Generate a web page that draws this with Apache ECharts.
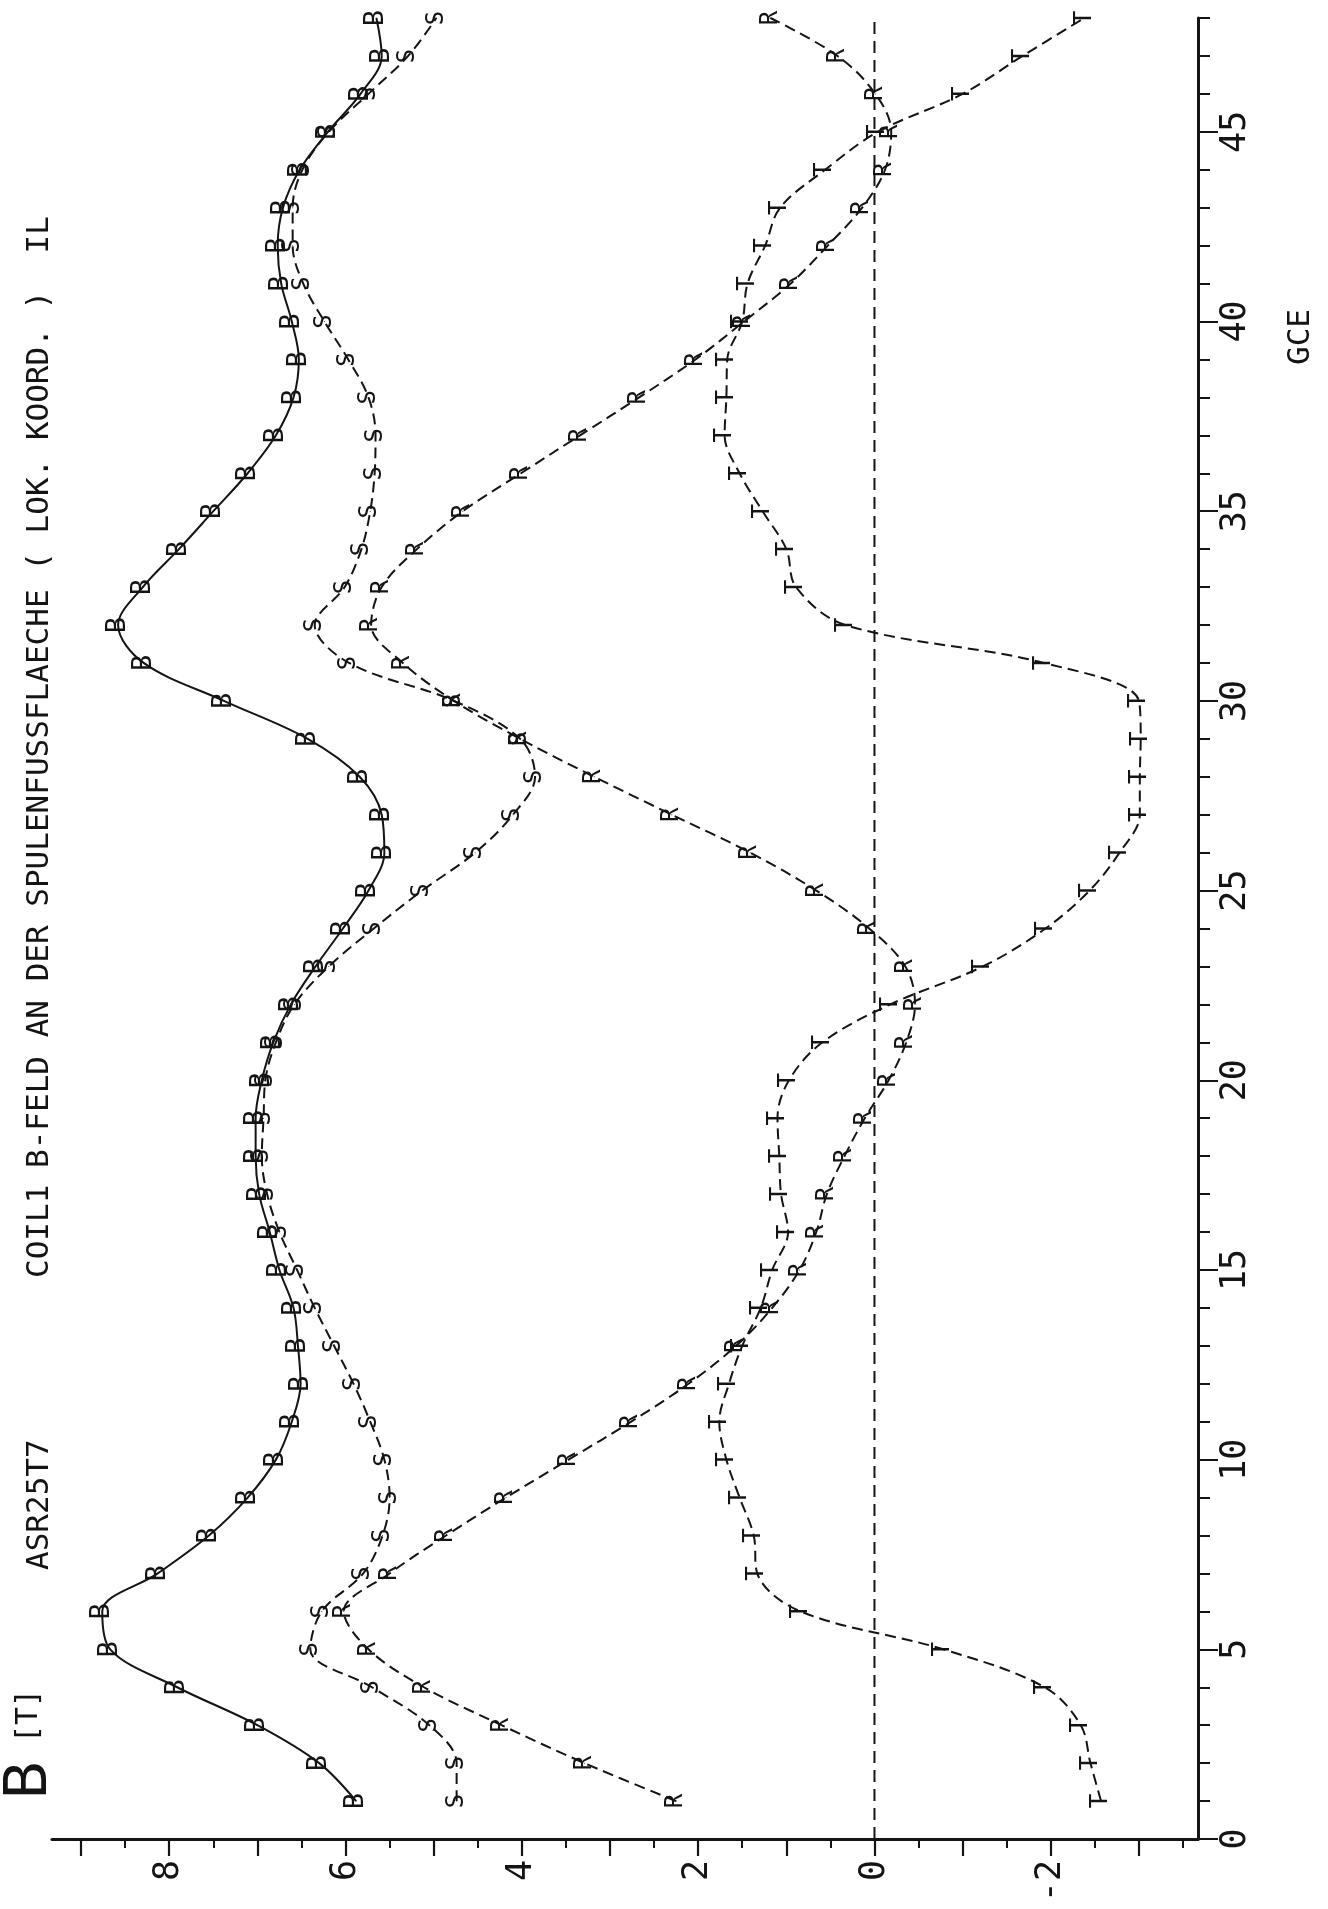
<!DOCTYPE html>
<html>
<head>
<meta charset="utf-8">
<script src="https://cdn.jsdelivr.net/npm/echarts@6/dist/echarts.min.js"></script>
<style>
html,body{margin:0;padding:0;background:#fff;}
#chart{width:1328px;height:1909px;}
</style>
</head>
<body>
<div id="chart"></div>
<script>
// GCE positions (vertical axis in the rotated plot)
const gce = [1,2,3,4,5,6,7,8,9,10,11,12,13,14,15,16,17,18,19,20,21,22,23,24,25,26,27,28,29,30,31,32,33,34,35,36,37,38,39,40,41,42,43,44,45,46,47,48];

// B [T] values per curve (marker letter in brackets)
const curveB = [5.88,6.30,7.00,7.91,8.67,8.76,8.13,7.55,7.11,6.79,6.61,6.51,6.54,6.59,6.75,6.86,6.98,7.02,7.02,6.95,6.82,6.62,6.34,6.03,5.74,5.56,5.59,5.84,6.43,7.38,8.29,8.58,8.30,7.89,7.50,7.11,6.79,6.59,6.53,6.61,6.73,6.77,6.71,6.52,6.20,5.83,5.59,5.65];
const curveS = [4.74,4.74,5.05,5.70,6.40,6.27,5.80,5.58,5.50,5.56,5.72,5.91,6.13,6.35,6.55,6.75,6.89,6.95,6.93,6.91,6.79,6.58,6.19,5.68,5.13,4.53,4.10,3.85,4.02,4.77,5.96,6.35,6.01,5.82,5.72,5.67,5.66,5.74,5.97,6.24,6.48,6.60,6.60,6.49,6.19,5.74,5.29,4.97];
const curveR = [2.25,3.29,4.23,5.11,5.74,6.02,5.50,4.86,4.18,3.47,2.76,2.11,1.57,1.16,0.85,0.66,0.54,0.34,0.11,-0.16,-0.36,-0.46,-0.35,0.06,0.66,1.41,2.30,3.18,4.02,4.77,5.35,5.71,5.59,5.19,4.67,4.01,3.34,2.67,2.03,1.48,0.95,0.53,0.14,-0.12,-0.19,-0.01,0.42,1.18];
const curveT = [-2.57,-2.45,-2.34,-1.93,-0.78,0.84,1.33,1.37,1.53,1.68,1.76,1.65,1.50,1.29,1.16,0.98,1.06,1.08,1.10,0.97,0.59,-0.18,-1.23,-1.94,-2.44,-2.78,-3.01,-3.01,-3.02,-3.00,-1.92,0.33,0.89,1.00,1.27,1.53,1.70,1.68,1.67,1.50,1.44,1.24,1.07,0.56,-0.04,-1.00,-1.68,-2.38];

// zero reference line (B = 0 over GCE range)
const zeroLineGce = [0, 48];

// axis ticks and labels
const bLabelValues = [-2,0,2,4,6,8];
const bMajorTicks = [-3,-2,-1,0,1,2,3,4,5,6,7,8,9];
const bMinorTicks = [-3.5,-2.5,-1.5,-0.5,0.5,1.5,2.5,3.5,4.5,5.5,6.5,7.5,8.5];
const gceLabelValues = [0,5,10,15,20,25,30,35,40,45];
const gceMinorTicks = [0,1,2,3,4,5,6,7,8,9,10,11,12,13,14,15,16,17,18,19,20,21,22,23,24,25,26,27,28,29,30,31,32,33,34,35,36,37,38,39,40,41,42,43,44,45,46,47,48];

const titleParts = {
  unitB: 'B',
  unit: '[T]',
  run: 'ASR25T7',
  coil: 'COIL1',
  title: 'B-FELD AN DER SPULENFUSSFLAECHE ( LOK. KOORD. )  IL',
  xName: 'GCE'
};

const INK = '#141414';
const MONO = '"DejaVu Sans Mono", "Liberation Mono", monospace';

function pairs(vals) { return vals.map((v, i) => [v, gce[i]]); }

function curve(name, vals, letter, dashed, fs) {
  return {
    name: name,
    type: 'line',
    xAxisIndex: 0,
    yAxisIndex: 0,
    data: pairs(vals),
    smooth: 0.35,
    symbol: 'circle',
    symbolSize: 1,
    itemStyle: { color: INK },
    lineStyle: { color: INK, width: 2, type: dashed ? [11, 6] : 'solid' },
    label: {
      show: true,
      position: 'inside',
      rotate: 90,
      formatter: letter,
      fontFamily: MONO,
      fontSize: fs,
      color: INK
    },
    emphasis: { disabled: true },
    z: 3
  };
}

const chart = echarts.init(document.getElementById('chart'), null, { renderer: 'canvas' });

const XMIN = -3.67, XMAX = 9.33;
const gridLeft = 52, gridRight = 130, gridTop = 18, gridBottom = 70;

function txt(text, x, y, size, family) {
  return {
    type: 'text', x: x, y: y, rotation: Math.PI / 2, silent: true,
    style: {
      text: text, fontSize: size, fontFamily: family || MONO, fill: INK,
      align: 'left', verticalAlign: 'middle',
      textAlign: 'left', textVerticalAlign: 'middle'
    }
  };
}

chart.setOption({
  animation: false,
  backgroundColor: '#ffffff',
  grid: { left: gridLeft, right: gridRight, top: gridTop, bottom: gridBottom, containLabel: false },
  xAxis: [
    {
      type: 'value', position: 'bottom', inverse: true, min: XMIN, max: XMAX,
      axisLine: { show: true, onZero: false, lineStyle: { color: INK, width: 3 } },
      axisTick: { show: true, customValues: bMajorTicks, length: 17, lineStyle: { color: INK, width: 2.2 } },
      axisLabel: { show: true, customValues: bLabelValues, rotate: 90, margin: 21, fontSize: 35, lineHeight: 35, fontFamily: MONO, color: INK },
      splitLine: { show: false }
    },
    {
      type: 'value', position: 'bottom', inverse: true, min: XMIN, max: XMAX,
      axisLine: { show: false, onZero: false },
      axisTick: { show: true, customValues: bMinorTicks, length: 9, lineStyle: { color: INK, width: 2 } },
      axisLabel: { show: false },
      splitLine: { show: false }
    }
  ],
  yAxis: [
    {
      type: 'value', position: 'right', min: 0, max: 48,
      axisLine: { show: true, onZero: false, lineStyle: { color: INK, width: 3 } },
      axisTick: { show: true, customValues: gceMinorTicks, length: 12, lineStyle: { color: INK, width: 2 } },
      axisLabel: { show: true, customValues: gceLabelValues, rotate: 90, margin: 20, fontSize: 35, lineHeight: 35, fontFamily: MONO, color: INK },
      splitLine: { show: false }
    },
    {
      type: 'value', position: 'right', min: 0, max: 48,
      axisLine: { show: false, onZero: false },
      axisTick: { show: true, customValues: gceLabelValues, length: 20, lineStyle: { color: INK, width: 2 } },
      axisLabel: { show: false },
      splitLine: { show: false }
    }
  ],
  series: [
    {
      name: 'zero', type: 'line', xAxisIndex: 0, yAxisIndex: 0,
      data: zeroLineGce.map(g => [0, g]),
      symbol: 'none',
      lineStyle: { color: INK, width: 2, type: [12, 7] },
      emphasis: { disabled: true }, z: 2
    },
    curve('B', curveB, 'B', false, 27),
    curve('S', curveS, 'S', true, 24),
    curve('R', curveR, 'R', true, 24),
    curve('T', curveT, 'T', true, 24)
  ],
  graphic: [
    txt(titleParts.unitB, 31, 1800, 58, '"DejaVu Sans", sans-serif'),
    txt(titleParts.unit, 29, 1743, 30),
    txt(titleParts.run, 40, 1570, 31),
    txt(titleParts.coil, 40, 1278, 31),
    txt(titleParts.title, 40, 1168, 31),
    txt(titleParts.xName, 1301, 365, 31)
  ]
});
</script>
</body>
</html>
